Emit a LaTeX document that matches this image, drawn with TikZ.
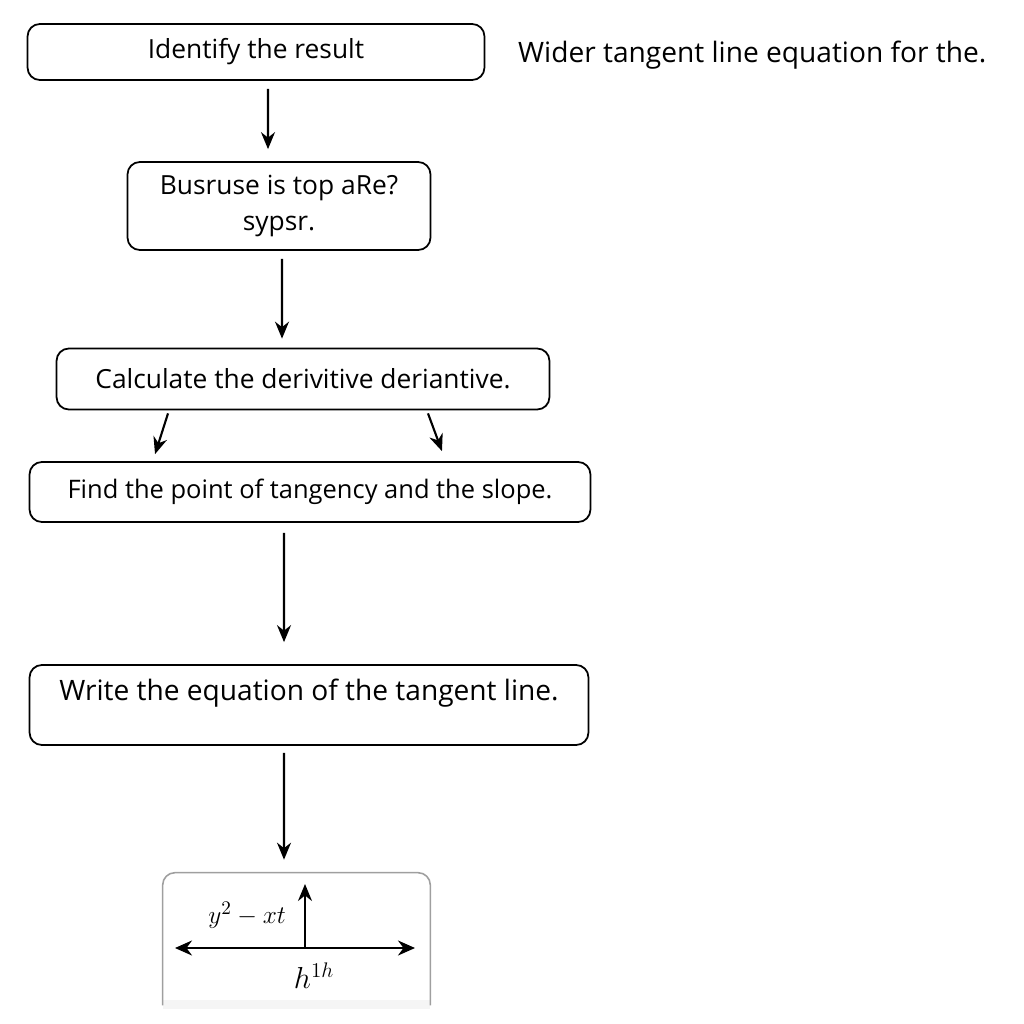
\documentclass[tikz,border=0pt]{standalone}
\usepackage{fontspec}
\setmainfont{Open Sans}
\usepackage{tikz}
\usetikzlibrary{positioning,arrows.meta}

\begin{document}
\begin{tikzpicture}[
  x=0.02cm, y=-0.02cm,
  stepbox/.style={draw, rectangle, rounded corners=7pt, line width=1pt,
             align=center, inner sep=0pt, font=\fontsize{15}{20}\selectfont},
  arr/.style={-{Stealth[length=3.4mm,width=2.8mm]}, line width=1.2pt},
  axis/.style={{Stealth[length=3.4mm,width=3mm]}-{Stealth[length=3.4mm,width=3mm]}, line width=1.3pt},
  lbl/.style={font=\fontsize{15}{17}\selectfont}
]
\useasboundingbox (0,0) rectangle (1024,1024);

%% ── steps ─────────────────────────────────────
\node[stepbox, minimum width=9.14cm, minimum height=1.12cm] (ident) at (256,52)  {Identify the result};
\node[stepbox, minimum width=6.06cm, minimum height=1.76cm] (busr)  at (279,206) {Busruse is top aRe?\\sypsr.};
\node[stepbox, minimum width=9.86cm, minimum height=1.22cm] (calc)  at (303,379) {Calculate the derivitive deriantive.};
\node[stepbox, font=\fontsize{14.5}{20}\selectfont, minimum width=11.22cm, minimum height=1.20cm] (find) at (310,492) {Find the point of tangency and the slope.};
\node[stepbox, font=\fontsize{16}{20}\selectfont, minimum width=11.18cm, text height=0.7cm, text depth=0.9cm] (write) at (309,705) {Write the equation of the tangent line.};

% side note
\node[lbl, font=\fontsize{16}{18}\selectfont, anchor=west] (note) at (512,55) {Wider tangent line equation for the.};

% plot frame (open at the bottom)
\node[minimum width=5.34cm, minimum height=2.64cm, inner sep=0pt] (plot) at (296.5,939) {};
\fill[gray!8] ([yshift=0.1cm]plot.south west) rectangle ([yshift=-0.08cm]plot.south east);
\draw[gray!75, line width=0.9pt, rounded corners=7pt]
  (plot.south west) -- (plot.north west) -- (plot.north east) -- (plot.south east);

%% ── edges ─────────────────────────────────────
\draw[arr] ([xshift=0.24cm,yshift=-0.16cm]ident.south) -- ([xshift=-0.22cm,yshift=0.24cm]busr.north);
\draw[arr] ([xshift=0.06cm,yshift=-0.16cm]busr.south)  -- ([xshift=-0.42cm,yshift=0.18cm]calc.north);
\draw[arr] ([xshift=-2.7cm,yshift=-0.06cm]calc.south)  -- ([xshift=-3.1cm,yshift=0.14cm]find.north);
\draw[arr] ([xshift=2.5cm,yshift=-0.06cm]calc.south)   -- ([xshift=2.64cm,yshift=0.2cm]find.north);
\draw[arr] ([xshift=-0.52cm,yshift=-0.2cm]find.south)  -- ([xshift=-0.5cm,yshift=0.44cm]write.north);
\draw[arr] ([xshift=-0.5cm,yshift=-0.14cm]write.south) -- ([xshift=-0.25cm,yshift=0.26cm]plot.north);

%% ── small tangent sketch ──────────────────────
\coordinate (xl) at (175,948);
\coordinate (xr) at (415,948);
\coordinate (o)  at (305,948);
\coordinate (yt) at (305,884);
\draw[axis] (xl) -- (xr);
\draw[arr, line width=1.3pt] (o) -- (yt);
\node[lbl, anchor=east] (eq) at (292,915) {$y^2 - xt$};
\node[lbl, font=\fontsize{17}{19}\selectfont] (hh) at (314,976) {$h^{1h}$};

\end{tikzpicture}
\end{document}
